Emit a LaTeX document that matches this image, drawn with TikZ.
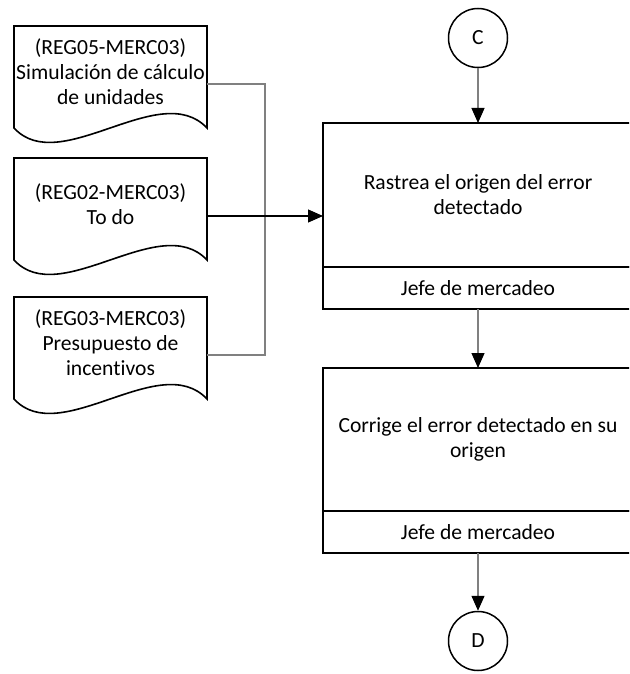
\documentclass[tikz,border=0pt]{standalone}
\usepackage{fontspec}
\setmainfont{Carlito}[Ligatures={NoCommon}]
\usetikzlibrary{arrows.meta,calc}
\newcommand\docoutline[1]{%
  \draw[docline] ($(#1.south west)+(0,10)$) -- (#1.north west) -- (#1.north east) -- ($(#1.south east)+(0,10)$)
    .. controls ($(#1.south east)+(-47,-40)$) and ($(#1.south west)+(46,60)$) .. ($(#1.south west)+(0,10)$) -- cycle;}
\begin{document}
\begin{tikzpicture}[x=1pt,y=-1pt,
  every node/.style={font=\fontsize{21.6}{25}\selectfont},
  doctext/.style={rectangle, minimum width=193pt, minimum height=92pt, inner sep=0pt, outer sep=0pt, align=center, anchor=north},
  docline/.style={line width=1.6pt, line join=miter},
  task/.style={draw, line width=1.6pt, rectangle, minimum width=310pt, minimum height=144pt, inner sep=0pt, outer sep=0pt, align=center},
  role/.style={draw, line width=1.6pt, rectangle, minimum width=310pt, minimum height=42pt, inner sep=0pt, outer sep=0pt, anchor=north},
  conn/.style={draw, line width=1.5pt, circle, minimum size=59pt, inner sep=0pt},
  garrow/.style={draw=gray, line width=1.2pt, -{Triangle[length=15pt,width=13pt,color=black]}},
  barrow/.style={draw=black, line width=1.1pt, -{Triangle[length=15pt,width=13pt]}},
  gline/.style={draw=gray, line width=1.2pt}
]
\path[use as bounding box, clip] (0,0) rectangle (629,674);

% documents
\node[doctext] (d1) at (110.5,26) {(REG05-MERC03)\\Simulación de cálculo\\de unidades};
\node[doctext] (d2) at (110.5,158) {(REG02-MERC03)\\To do};
\node[doctext] (d3) at (110.5,297) {(REG03-MERC03)\\Presupuesto de\\incentivos};
\docoutline{d1}
\docoutline{d2}
\docoutline{d3}

% process boxes and connectors
\node[conn] (c) at (478,38) {C};
\node[task] (b1) at (478,195) {Rastrea el origen del error\\detectado};
\node[role] (r1) at (b1.south) {Jefe de mercadeo};
\node[task, minimum height=143pt] (b2) at (478,439.5) {Corrige el error detectado en su\\origen};
\node[role] (r2) at (b2.south) {Jefe de mercadeo};
\node[conn] (d) at (478,641) {D};

\coordinate (p1) at ($(d1.east)+(0,12)$);
\coordinate (p2) at ($(d2.east)+(0,12)$);
\coordinate (p3) at ($(d3.east)+(0,12)$);
\coordinate (j) at (265,0);

\draw[gline] (p1) -- (p1 -| j) -- (p3 -| j) -- (p3);
\draw[barrow] (p2) -- (p2 -| b1.west);
\draw[garrow] (c) -- (b1);
\draw[garrow] (r1) -- (b2);
\draw[garrow] (r2) -- (d);
\end{tikzpicture}
\end{document}
